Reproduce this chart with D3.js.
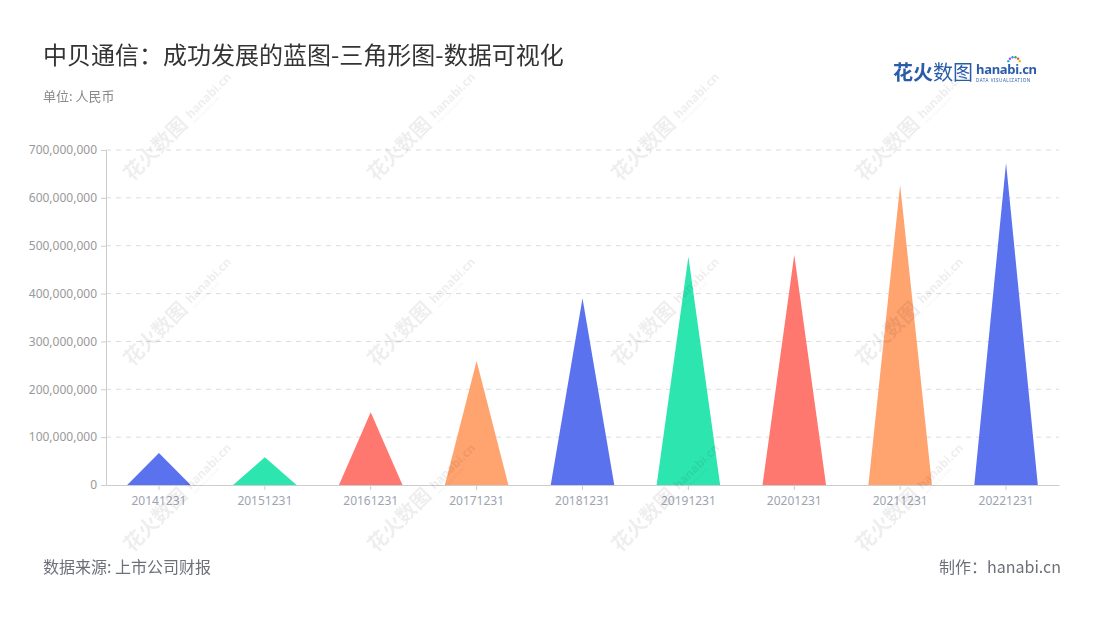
<!DOCTYPE html>
<html><head><meta charset="utf-8">
<script src="https://cdn.jsdelivr.net/npm/d3@7"></script>
<style>
body{margin:0;background:#fff;}
svg{font-family:"Noto Sans CJK SC","Noto Sans",sans-serif;}
</style></head>
<body><svg id="c" width="1100" height="620"></svg>
<script>
const categories = ["20141231","20151231","20161231","20171231","20181231","20191231","20201231","20211231","20221231"];
const values = [67000000, 58000000, 152000000, 259000000, 390000000, 477000000, 481000000, 627000000, 673000000];
const colors = ["#5B72EE","#2DE6AF","#FF7870","#FFA36F","#5B72EE","#2DE6AF","#FF7870","#FFA36F","#5B72EE"];
const yTicks = [0,100000000,200000000,300000000,400000000,500000000,600000000,700000000];

const svg = d3.select("#c");
const m = {l:106, r:1059, t:150, b:485};
const x = d3.scaleBand().domain(categories).range([m.l, m.r]).paddingInner(0).paddingOuter(0);
const y = d3.scaleLinear().domain([0,700000000]).range([m.b, m.t]);

// grid
svg.append("g").selectAll("line").data(yTicks.slice(1)).join("line")
  .attr("x1", m.l).attr("x2", m.r).attr("y1", d=>y(d)).attr("y2", d=>y(d))
  .attr("stroke","#dcdcdc").attr("stroke-dasharray","5,5").attr("stroke-width",1);

// y axis
const yAxis = svg.append("g").attr("transform",`translate(${m.l},0)`)
  .call(d3.axisLeft(y).tickValues(yTicks).tickSize(5).tickPadding(4).tickFormat(d3.format(",")));
yAxis.select(".domain").attr("stroke","#ccc");
yAxis.selectAll(".tick line").attr("stroke","#ccc");
yAxis.selectAll("text").attr("fill","#999").attr("font-size",12).attr("font-family","Noto Sans, sans-serif");

// x axis
const xAxis = svg.append("g").attr("transform",`translate(0,${m.b})`)
  .call(d3.axisBottom(x).tickSize(5).tickSizeOuter(0).tickPadding(6));
xAxis.select(".domain").attr("stroke","#ccc");
xAxis.selectAll(".tick line").attr("stroke","#ccc");
xAxis.selectAll("text").attr("fill","#9EA3B0").attr("font-size",12).attr("font-family","Noto Sans, sans-serif");

// triangles
const bw = x.bandwidth()*0.6;
svg.append("g").selectAll("path").data(categories).join("path")
  .attr("d",(c,i)=>{
    const cx = x(c)+x.bandwidth()/2;
    return `M${cx-bw/2},${y(0)}L${cx},${y(values[i])}L${cx+bw/2},${y(0)}Z`;
  })
  .attr("fill",(c,i)=>colors[i]);

// watermarks
const wmX = [132, 376, 620, 864], wmY = [182, 367, 553];
const wm = svg.append("g").attr("opacity",0.07).attr("fill","#000").attr("pointer-events","none");
wmX.forEach(wx => wmY.forEach(wy => {
  const g = wm.append("g").attr("transform",`translate(${wx},${wy}) rotate(-45)`);
  g.append("text").attr("x",0).attr("y",0).attr("font-size",20).attr("font-weight","bold").text("花火数图");
  g.append("text").attr("x",86).attr("y",-3).attr("font-size",12).attr("font-weight","bold")
    .attr("font-family","Noto Sans, sans-serif").text("hanabi.cn");
  g.append("text").attr("x",86).attr("y",3).attr("font-size",3.5)
    .attr("font-family","Noto Sans, sans-serif").text("DATA VISUALIZATION");
}));

// titles
svg.append("text").attr("x",43).attr("y",64).attr("font-size",24).attr("fill","#333")
  .text("中贝通信：成功发展的蓝图-三角形图-数据可视化");
svg.append("text").attr("x",43).attr("y",101).attr("font-size",13).attr("fill","#888")
  .text("单位: 人民币");
svg.append("text").attr("x",43).attr("y",573).attr("font-size",16).attr("fill","#6E7079")
  .text("数据来源: 上市公司财报");
svg.append("text").attr("x",1061).attr("y",573).attr("font-size",16).attr("fill","#6E7079")
  .attr("text-anchor","end").text("制作：hanabi.cn");

// logo
const lg = svg.append("g");
lg.append("text").attr("x",893).attr("y",80).attr("font-size",20).attr("font-weight","bold").attr("fill","#2A5CAA").text("花火");
lg.append("text").attr("x",933).attr("y",80).attr("font-size",20).attr("fill","#2A5CAA").text("数图");
lg.append("text").attr("x",976).attr("y",74).attr("font-size",13).attr("font-weight","bold").attr("fill","#2A5CAA")
  .attr("font-family","Noto Sans, sans-serif").attr("letter-spacing",-0.3).text("hanabi.cn");
lg.append("text").attr("x",976).attr("y",81.5).attr("font-size",4.5).attr("fill","#2A5CAA")
  .attr("font-family","Noto Sans, sans-serif").attr("letter-spacing",0.55).text("DATA VISUALIZATION");
// firework dots on the logo
const dots = ["#F4B400","#E94B3C","#34A853","#4285F4","#A142F4","#00BCD4"];
lg.selectAll("circle").data(dots).join("circle")
  .attr("cx",(d,i)=>1014+6*Math.cos(-Math.PI*(0.1+i*0.16)))
  .attr("cy",(d,i)=>63+6*Math.sin(-Math.PI*(0.1+i*0.16)))
  .attr("r",1.2).attr("fill",d=>d);
</script></body></html>
